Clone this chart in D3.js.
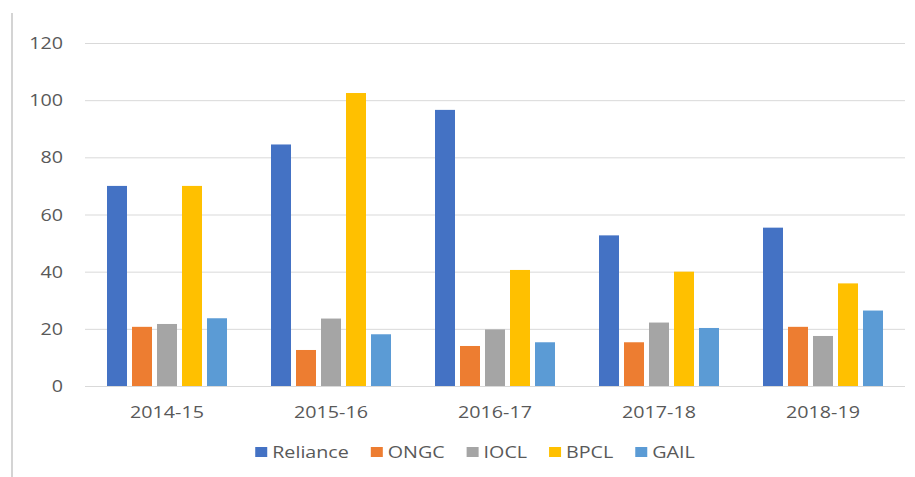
<!DOCTYPE html>
<html><head><meta charset="utf-8">
<script src="https://cdn.jsdelivr.net/npm/d3@7"></script>
<style>html,body{margin:0;padding:0;background:#fff;}svg{display:block;}</style>
</head><body>
<script>
const categories = ["2014-15","2015-16","2016-17","2017-18","2018-19"];
const seriesNames = ["Reliance","ONGC","IOCL","BPCL","GAIL"];
const reliance = [70, 84.5, 96.6, 52.7, 55.4];
const ongc     = [20.7, 12.6, 14, 15.3, 20.7];
const iocl     = [21.7, 23.6, 19.8, 22.2, 17.5];
const bpcl     = [70, 102.5, 40.6, 40, 35.9];
const gail     = [23.7, 18.1, 15.3, 20.3, 26.4];
const yTicks   = [0,20,40,60,80,100,120];
const colors   = ["#4472C4","#ED7D31","#A5A5A5","#FFC000","#5B9BD5"];

const values = [reliance, ongc, iocl, bpcl, gail];
const W = 915, H = 477;
const SX = 1.23; // horizontal stretch of text seen in reference
const font = "'Open Sans', sans-serif";
const textColor = "#595959";

const svg = d3.select("body").append("svg").attr("width", W).attr("height", H);
svg.append("rect").attr("width", W).attr("height", H).attr("fill", "#fff");

// left frame line
svg.append("line").attr("x1", 12).attr("x2", 12).attr("y1", 13).attr("y2", H)
  .attr("stroke", "#d4d4d4").attr("stroke-width", 2);

const plotL = 85, plotR = 905, plotT = 43, plotB = 386;
const x0 = d3.scaleBand().domain(categories).range([plotL, plotR]).paddingInner(0).paddingOuter(0);
const x1 = d3.scaleBand().domain(seriesNames).range([0, x0.bandwidth()]).paddingInner(0.2).paddingOuter(0.88);
const y = d3.scaleLinear().domain([0, 120]).range([plotB, plotT]);
const color = d3.scaleOrdinal().domain(seriesNames).range(colors);

// gridlines
const yAxis = d3.axisLeft(y).tickValues(yTicks).tickSize(-(plotR - plotL)).tickFormat(d3.format("d"));
const gy = svg.append("g").attr("transform", `translate(${plotL},0)`).call(yAxis);
gy.select(".domain").remove();
gy.selectAll(".tick line").attr("stroke", "#d9d9d9").attr("stroke-width", 1);
gy.selectAll(".tick text").attr("x", 0).attr("dy", "0.35em")
  .attr("fill", textColor).style("font-family", font).style("font-size", "16px")
  .attr("text-anchor", "end")
  .attr("transform", `translate(-22,0) scale(${SX},1)`);

// bars
const groups = svg.append("g").selectAll("g").data(categories).join("g")
  .attr("transform", d => `translate(${x0(d)},0)`);
groups.selectAll("rect")
  .data((c, i) => seriesNames.map((s, k) => ({s, v: values[k][i]})))
  .join("rect")
  .attr("x", d => x1(d.s)).attr("width", x1.bandwidth())
  .attr("y", d => y(d.v)).attr("height", d => y(0) - y(d.v))
  .attr("fill", d => color(d.s));

// x axis
const xAxis = d3.axisBottom(x0).tickSize(0).tickPadding(0);
const gx = svg.append("g").attr("transform", `translate(0,${plotB})`).call(xAxis);
gx.select(".domain").attr("stroke", "#d9d9d9").attr("d", `M${plotL},0.5H${plotR}`);
gx.selectAll(".tick text").attr("y", 0).attr("dy", 0)
  .attr("fill", textColor).style("font-family", font).style("font-size", "16px")
  .attr("transform", `translate(0,32) scale(${SX},1)`);

// legend
const legend = svg.append("g");
let cx = 0;
const gap = 22;
seriesNames.forEach((s, k) => {
  const g = legend.append("g");
  g.append("rect").attr("x", 0).attr("y", -5).attr("width", 12).attr("height", 10).attr("fill", colors[k]);
  const t = g.append("text").text(s).attr("fill", textColor)
    .style("font-family", font).style("font-size", "16px").attr("dy", "0.35em")
    .attr("transform", `translate(17,0) scale(${SX},1)`);
  const w = 17 + t.node().getComputedTextLength() * SX;
  g.attr("transform", `translate(${cx},0)`);
  cx += w + gap;
});
const totalW = cx - gap;
legend.attr("transform", `translate(${475 - totalW / 2},452)`);
</script>
</body></html>
